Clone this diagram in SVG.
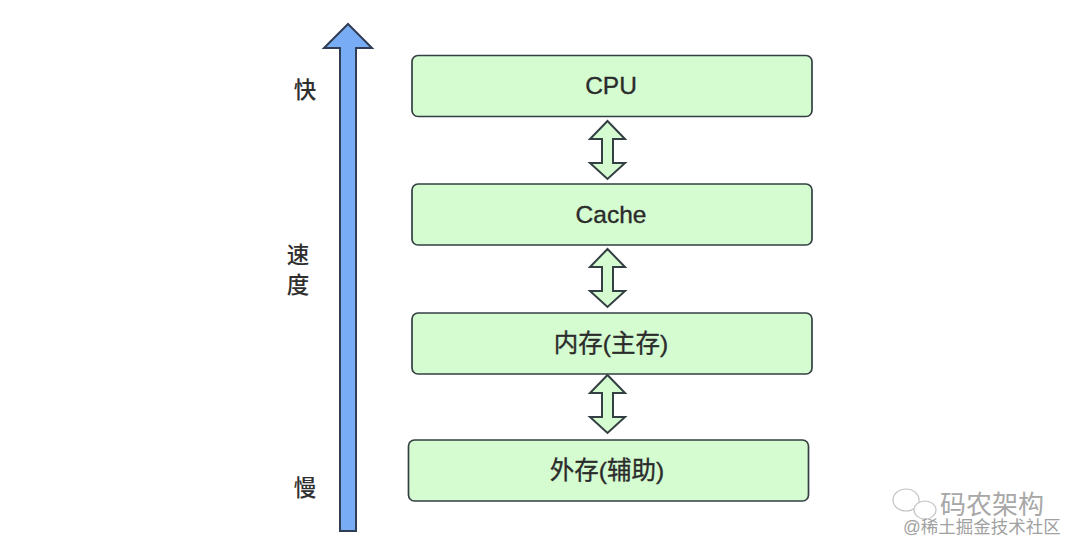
<svg xmlns="http://www.w3.org/2000/svg" width="1080" height="552" viewBox="0 0 1080 552">
<defs>
<style>
.box{fill:#d5fcd0;stroke:#333f42;stroke-width:1.7}
.dbl{fill:#d5fcd0;stroke:#333f42;stroke-width:2}
.lbl{font-family:"Liberation Sans","Noto Sans CJK SC",sans-serif;font-size:24.500px;fill:#2b2b2b;stroke:#2b2b2b;stroke-width:.35;text-anchor:middle}
.side{font-family:"Noto Sans CJK SC",sans-serif;font-size:22.500px;font-weight:500;fill:#2f2f2f;text-anchor:middle}
.wm1{font-family:"Noto Sans CJK SC",sans-serif;font-size:26px;fill:#8a8a8a;opacity:.75}
.wm2{font-family:"Liberation Sans","Noto Sans CJK SC",sans-serif;font-size:17.500px;fill:#8a8a8a;opacity:.8}
</style>
</defs>
<rect width="1080" height="552" fill="#fff"/>
<g id="connectors">
<path id="speed-arrow" d="M348 24 L372 48 L356 48 L356 531 L340 531 L340 48 L324 48 Z" fill="#78adf6" stroke="#2f3d55" stroke-width="2"/>
<path class="dbl" d="M607.500 121 L625 139 L613 139 L613 163 L625 163 L607.500 179 L590 163 L602 163 L602 139 L590 139 Z"/>
<path class="dbl" d="M607.500 249 L625 267 L613 267 L613 291 L625 291 L607.500 307 L590 291 L602 291 L602 267 L590 267 Z"/>
<path class="dbl" d="M607.500 375 L625 393 L613 393 L613 417 L625 417 L607.500 433 L590 417 L602 417 L602 393 L590 393 Z"/>
</g>
<g id="node-cpu"><rect class="box" x="412" y="55.500" width="400" height="61" rx="6"/><text class="lbl" x="611" y="94">CPU</text></g>
<g id="node-cache"><rect class="box" x="412" y="184" width="400" height="61" rx="6"/><text class="lbl" x="611" y="223">Cache</text></g>
<g id="node-mem"><rect class="box" x="412" y="313" width="400" height="61" rx="6"/><text class="lbl" x="611" y="352">内存(主存)</text></g>
<g id="node-ext"><rect class="box" x="408.500" y="440" width="400" height="61" rx="6"/><text class="lbl" x="607" y="479">外存(辅助)</text></g>
<g id="speed-labels">
<text class="side" x="305" y="98">快</text>
<text class="side" x="298" y="263">速</text>
<text class="side" x="298" y="293">度</text>
<text class="side" x="305" y="496">慢</text>
</g>
<g id="watermark">
<g fill="#fff" stroke="#c4c4c4" stroke-width="1.2"><ellipse cx="906" cy="500" rx="13" ry="11"/><ellipse cx="925" cy="510" rx="11" ry="9"/></g>
<text class="wm1" x="940" y="514">码农架构</text>
<text class="wm2" x="903" y="533">@稀土掘金技术社区</text>
</g>
</svg>
